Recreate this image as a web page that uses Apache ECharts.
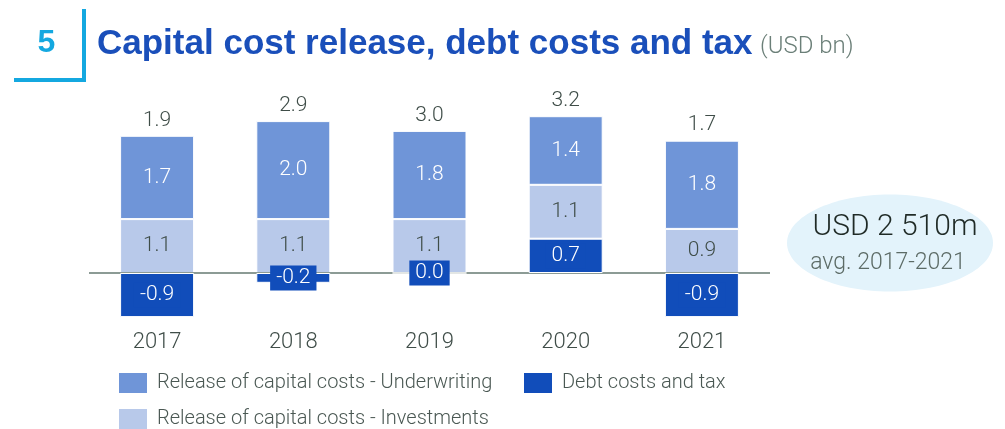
<!DOCTYPE html>
<html>
<head>
<meta charset="utf-8">
<script src="https://cdn.jsdelivr.net/npm/echarts@6/dist/echarts.min.js"></script>
<style>
  html, body { margin: 0; padding: 0; background: #fff; }
  #chart { width: 1005px; height: 429px; }
</style>
</head>
<body>
<div id="chart"></div>
<script>
// Years shown on the category axis
const years = ['2017', '2018', '2019', '2020', '2021'];
// Release of capital costs - Underwriting (USD bn)
const underwriting = [1.7, 2.0, 1.8, 1.4, 1.8];
// Release of capital costs - Investments (USD bn)
const investments = [1.1, 1.1, 1.1, 1.1, 0.9];
// Debt costs and tax (USD bn)
const debtTax = [-0.9, -0.2, 0.0, 0.7, -0.9];
// Net total per year, printed above each column
const totals = [1.9, 2.9, 3.0, 3.2, 1.7];

const names = {
  uw: 'Release of capital costs - Underwriting',
  inv: 'Release of capital costs - Investments',
  debt: 'Debt costs and tax'
};

const FONT = 'Roboto, "Helvetica Neue", Arial, sans-serif';
const HEAD = '"Liberation Sans", Arial, Helvetica, sans-serif';
const TXT = '#3f4d48';

const chart = echarts.init(document.getElementById('chart'), null, { renderer: 'canvas' });

const legendBase = {
  orient: 'horizontal',
  padding: 0,
  itemWidth: 30,
  itemHeight: 22,
  itemGap: 12,
  icon: 'rect',
  selectedMode: false,
  textStyle: { fontFamily: FONT, fontSize: 20, color: '#4a5853', fontWeight: 300, padding: [3, 0, 0, 4] }
};

chart.setOption({
  animation: false,
  textStyle: { fontFamily: FONT },
  grid: { left: 89, right: 235, top: 101.5, bottom: 107, containLabel: false },
  legend: [
    Object.assign({ left: 117, top: 371, data: [names.uw] }, legendBase),
    Object.assign({ left: 522, top: 371, data: [names.debt] }, legendBase),
    Object.assign({ left: 117, top: 407, data: [names.inv] }, legendBase)
  ],
  xAxis: {
    type: 'category',
    data: years,
    axisLine: { show: false, onZero: false },
    axisTick: { show: false },
    axisLabel: { fontSize: 22, color: TXT, fontWeight: 300, margin: 9, fontFamily: FONT }
  },
  yAxis: {
    type: 'value',
    min: -1,
    max: 3.5,
    show: false,
    splitLine: { show: false }
  },
  series: [
    {
      name: names.debt,
      type: 'bar',
      stack: 'total',
      barWidth: 74,
      data: debtTax,
      itemStyle: { color: '#114dba', borderColor: '#ffffff', borderWidth: 1 },
      label: {
        show: true,
        position: 'inside',
        color: '#ffffff',
        fontSize: 21,
        fontWeight: 300,
        backgroundColor: '#114dba',
        padding: [3, 6, 1, 6],
        formatter: p => p.value.toFixed(1)
      },
      z: 6,
      markLine: {
        silent: true,
        symbol: 'none',
        label: { show: false },
        lineStyle: { color: '#8c9b95', width: 2, type: 'solid' },
        data: [{ yAxis: 0 }],
        z: 4
      }
    },
    {
      name: names.inv,
      type: 'bar',
      stack: 'total',
      barWidth: 74,
      data: investments,
      itemStyle: { color: '#b8c9ea', borderColor: '#ffffff', borderWidth: 1 },
      label: {
        show: true,
        position: 'inside',
        color: TXT,
        fontSize: 21,
        fontWeight: 300,
        formatter: p => p.value.toFixed(1)
      },
      z: 2
    },
    {
      name: names.uw,
      type: 'bar',
      stack: 'total',
      barWidth: 74,
      data: underwriting,
      itemStyle: { color: '#6f95d8', borderColor: '#ffffff', borderWidth: 1 },
      label: {
        show: true,
        position: 'inside',
        color: '#ffffff',
        fontSize: 21,
        fontWeight: 300,
        formatter: p => p.value.toFixed(1)
      },
      z: 2
    },
    {
      // carries the net total label above each column
      name: 'total',
      type: 'bar',
      stack: 'total',
      barWidth: 74,
      data: years.map(() => 0),
      itemStyle: { color: 'transparent' },
      label: {
        show: true,
        position: 'top',
        distance: 5,
        color: TXT,
        fontSize: 21,
        fontWeight: 300,
        formatter: p => totals[p.dataIndex].toFixed(1)
      },
      z: 2
    }
  ],
  graphic: [
    // section number bracket
    { type: 'line', shape: { x1: 84, y1: 9, x2: 84, y2: 82 }, style: { stroke: '#14a8e0', lineWidth: 4 } },
    { type: 'line', shape: { x1: 14, y1: 80, x2: 86, y2: 80 }, style: { stroke: '#14a8e0', lineWidth: 4 } },
    { type: 'text', x: 46.5, y: 43, style: { text: '5', fill: '#14a8e0', font: 'bold 32px ' + HEAD, textAlign: 'center', textVerticalAlign: 'middle' } },
    // heading
    { type: 'text', x: 97, y: 44, style: { text: 'Capital cost release, debt costs and tax', fill: '#1a4fba', font: 'bold 35px ' + HEAD, textAlign: 'left', textVerticalAlign: 'middle' } },
    { type: 'text', x: 760, y: 47, style: { text: '(USD bn)', fill: '#6b7f78', font: '300 24px ' + FONT, textAlign: 'left', textVerticalAlign: 'middle' } },
    // average badge
    { type: 'ellipse', shape: { cx: 890, cy: 243, rx: 103, ry: 48.5 }, style: { fill: '#e3f3fb' }, z: 0 },
    { type: 'text', x: 895, y: 227, style: { text: 'USD 2 510m', fill: '#1f2a26', font: '300 30px ' + FONT, textAlign: 'center', textVerticalAlign: 'middle' } },
    { type: 'text', x: 888, y: 263, style: { text: 'avg. 2017-2021', fill: '#5c6b66', font: '300 23px ' + FONT, textAlign: 'center', textVerticalAlign: 'middle' } }
  ]
});
</script>
</body>
</html>
